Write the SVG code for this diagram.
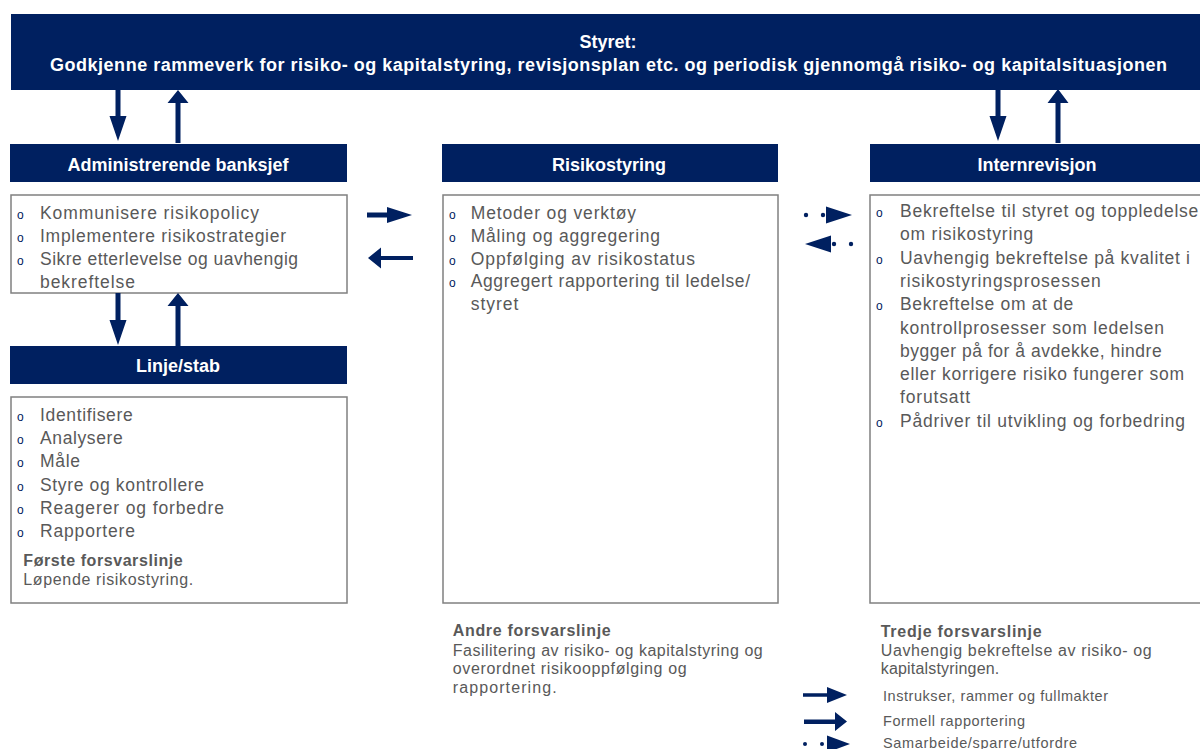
<svg xmlns="http://www.w3.org/2000/svg" width="1200" height="749" viewBox="0 0 1200 749">
  <style>
    text { font-family: "Liberation Sans", Arial, sans-serif; }
    .band { fill: #002060; }
    .hdr { fill: #ffffff; font-weight: bold; font-size: 18px; text-anchor: middle; }
    .box { fill: #ffffff; stroke: #808080; stroke-width: 1.5; }
    .body { fill: #595959; font-size: 17.5px; }
    .note { fill: #595959; font-size: 16px; }
    .note-b { fill: #595959; font-size: 16px; font-weight: bold; }
    .leg { fill: #595959; font-size: 14.5px; }
    .bul { fill: #002060; font-size: 12px; }
    .arr { fill: #002060; }
  </style>

  <rect width="1200" height="749" fill="#ffffff"/>

  <!-- Board banner -->
  <g id="styret">
    <rect class="band" x="11" y="14" width="1189" height="76"/>
    <text class="hdr" x="608" y="48" font-size="17">Styret:</text>
    <text class="hdr" x="50" y="71" style="text-anchor:start" textLength="1117" lengthAdjust="spacing">Godkjenne rammeverk for risiko- og kapitalstyring, revisjonsplan etc. og periodisk gjennomgå risiko- og kapitalsituasjonen</text>
  </g>

  <!-- CEO -->
  <g id="adm-banksjef">
    <rect class="band" x="10" y="144" width="337" height="38"/>
    <text class="hdr" x="178" y="171">Administrerende banksjef</text>
    <rect class="box" x="11" y="195" width="336" height="98"/>
    <text class="bul" x="17" y="218.5">o</text>
    <text class="body" x="40" y="218.5" textLength="219">Kommunisere risikopolicy</text>
    <text class="bul" x="17" y="241.8">o</text>
    <text class="body" x="40" y="241.8" textLength="246">Implementere risikostrategier</text>
    <text class="bul" x="17" y="265.1">o</text>
    <text class="body" x="40" y="265.1" textLength="258">Sikre etterlevelse og uavhengig</text>
    <text class="body" x="40" y="288.4" textLength="95">bekreftelse</text>
  </g>

  <!-- Line / staff (first line of defence) -->
  <g id="linje-stab">
    <rect class="band" x="10" y="346" width="337" height="38"/>
    <text class="hdr" x="178" y="372">Linje/stab</text>
    <rect class="box" x="11" y="397" width="336" height="206"/>
    <text class="bul" x="17" y="421">o</text>
    <text class="body" x="40" y="421" textLength="92.7">Identifisere</text>
    <text class="bul" x="17" y="444.2">o</text>
    <text class="body" x="40" y="444.2" textLength="82.7">Analysere</text>
    <text class="bul" x="17" y="467.4">o</text>
    <text class="body" x="40" y="467.4" textLength="40">Måle</text>
    <text class="bul" x="17" y="490.6">o</text>
    <text class="body" x="40" y="490.6" textLength="164">Styre og kontrollere</text>
    <text class="bul" x="17" y="513.8">o</text>
    <text class="body" x="40" y="513.8" textLength="184">Reagerer og forbedre</text>
    <text class="bul" x="17" y="537">o</text>
    <text class="body" x="40" y="537" textLength="95">Rapportere</text>
    <text class="note-b" x="23.3" y="566" textLength="159.4">Første forsvarslinje</text>
    <text class="note" x="23.3" y="585" textLength="170">Løpende risikostyring.</text>
  </g>

  <!-- Risk management (second line of defence) -->
  <g id="risikostyring">
    <rect class="band" x="442" y="144" width="336" height="38"/>
    <text class="hdr" x="609" y="171">Risikostyring</text>
    <rect class="box" x="443" y="195" width="335" height="408"/>
    <text class="bul" x="449" y="219.3">o</text>
    <text class="body" x="470.7" y="219.3" textLength="165.3">Metoder og verktøy</text>
    <text class="bul" x="449" y="242">o</text>
    <text class="body" x="470.7" y="242" textLength="189.3">Måling og aggregering</text>
    <text class="bul" x="449" y="264.7">o</text>
    <text class="body" x="470.7" y="264.7" textLength="224.3">Oppfølging av risikostatus</text>
    <text class="bul" x="449" y="287.4">o</text>
    <text class="body" x="470.7" y="287.4" textLength="279.3">Aggregert rapportering til ledelse/</text>
    <text class="body" x="470.7" y="310.1" textLength="47.6">styret</text>
    <text class="note-b" x="452.7" y="636" textLength="158">Andre forsvarslinje</text>
    <text class="note" x="452.7" y="655.5" textLength="310">Fasilitering av risiko- og kapitalstyring og</text>
    <text class="note" x="452.7" y="674" textLength="234">overordnet risikooppfølging og</text>
    <text class="note" x="452.7" y="692.5" textLength="104">rapportering.</text>
  </g>

  <!-- Internal audit (third line of defence) -->
  <g id="internrevisjon">
    <rect class="band" x="870" y="144" width="330" height="38"/>
    <text class="hdr" x="1037" y="170.5">Internrevisjon</text>
    <rect class="box" x="870" y="195" width="340" height="408"/>
    <text class="bul" x="876" y="217">o</text>
    <text class="body" x="900" y="217" textLength="298.3">Bekreftelse til styret og toppledelse</text>
    <text class="body" x="900" y="240.3" textLength="133.3">om risikostyring</text>
    <text class="bul" x="876" y="263.6">o</text>
    <text class="body" x="900" y="263.6" textLength="290">Uavhengig bekreftelse på kvalitet i</text>
    <text class="body" x="900" y="286.9" textLength="200.7">risikostyringsprosessen</text>
    <text class="bul" x="876" y="310.2">o</text>
    <text class="body" x="900" y="310.2" textLength="173.3">Bekreftelse om at de</text>
    <text class="body" x="900" y="333.5" textLength="264">kontrollprosesser som ledelsen</text>
    <text class="body" x="900" y="356.8" textLength="261.7">bygger på for å avdekke, hindre</text>
    <text class="body" x="900" y="380.1" textLength="284">eller korrigere risiko fungerer som</text>
    <text class="body" x="900" y="403.4" textLength="70">forutsatt</text>
    <text class="bul" x="876" y="426.7">o</text>
    <text class="body" x="900" y="426.7" textLength="285">Pådriver til utvikling og forbedring</text>
    <text class="note-b" x="880.7" y="636.7" textLength="161">Tredje forsvarslinje</text>
    <text class="note" x="880.7" y="655.5" textLength="271">Uavhengig bekreftelse av risiko- og</text>
    <text class="note" x="880.7" y="674.3" textLength="118.6">kapitalstyringen.</text>
  </g>

  <!-- Connectors -->
  <g id="connectors" class="arr">
    <!-- board <-> CEO -->
    <polygon points="115.5,90 120.5,90 120.5,116 126.5,116 118,141 109.5,116 115.5,116"/>
    <polygon points="175.5,143 180.5,143 180.5,103 188.5,103 178,90 167.5,103 175.5,103"/>
    <!-- CEO <-> line/staff -->
    <polygon points="115.5,293 120.5,293 120.5,320 126.5,320 118,345 109.5,320 115.5,320"/>
    <polygon points="175.5,346 180.5,346 180.5,306 188.5,306 178,293 167.5,306 175.5,306"/>
    <!-- board <-> internal audit -->
    <polygon points="995.5,90 1000.5,90 1000.5,116 1006.5,116 998,141 989.5,116 995.5,116"/>
    <polygon points="1055.5,143 1060.5,143 1060.5,103 1068.5,103 1058,89 1047.5,103 1055.5,103"/>
    <!-- CEO <-> risk management -->
    <polygon points="367,212.5 387,212.5 387,207 412,215 387,223 387,217.5 367,217.5"/>
    <polygon points="413,256 381,256 381,247.5 368,258 381,268.5 381,260 413,260"/>
    <!-- risk management <-> internal audit (cooperation) -->
    <circle cx="806" cy="215" r="2.2"/>
    <circle cx="823" cy="215" r="2.2"/>
    <polygon points="826,206.5 852,215 826,223.5"/>
    <polygon points="805,244 831,235.5 831,252.5"/>
    <circle cx="834" cy="244" r="2.2"/>
    <circle cx="851" cy="244" r="2.2"/>
  </g>

  <!-- Legend -->
  <g id="legend">
    <polygon class="arr" points="803,693.3 827,693.3 827,687 847,695 827,703 827,696.7 803,696.7"/>
    <text class="leg" x="883" y="701" textLength="225">Instrukser, rammer og fullmakter</text>
    <polygon class="arr" points="804,719.5 835,719.5 835,712 847,721.5 835,731 835,724 804,724"/>
    <text class="leg" x="883" y="725.5" textLength="142">Formell rapportering</text>
    <circle class="arr" cx="805" cy="744" r="2"/>
    <circle class="arr" cx="822" cy="744" r="2"/>
    <polygon class="arr" points="827,735.5 850,744 827,752.5"/>
    <text class="leg" x="883" y="747.5" textLength="194">Samarbeide/sparre/utfordre</text>
  </g>
</svg>
